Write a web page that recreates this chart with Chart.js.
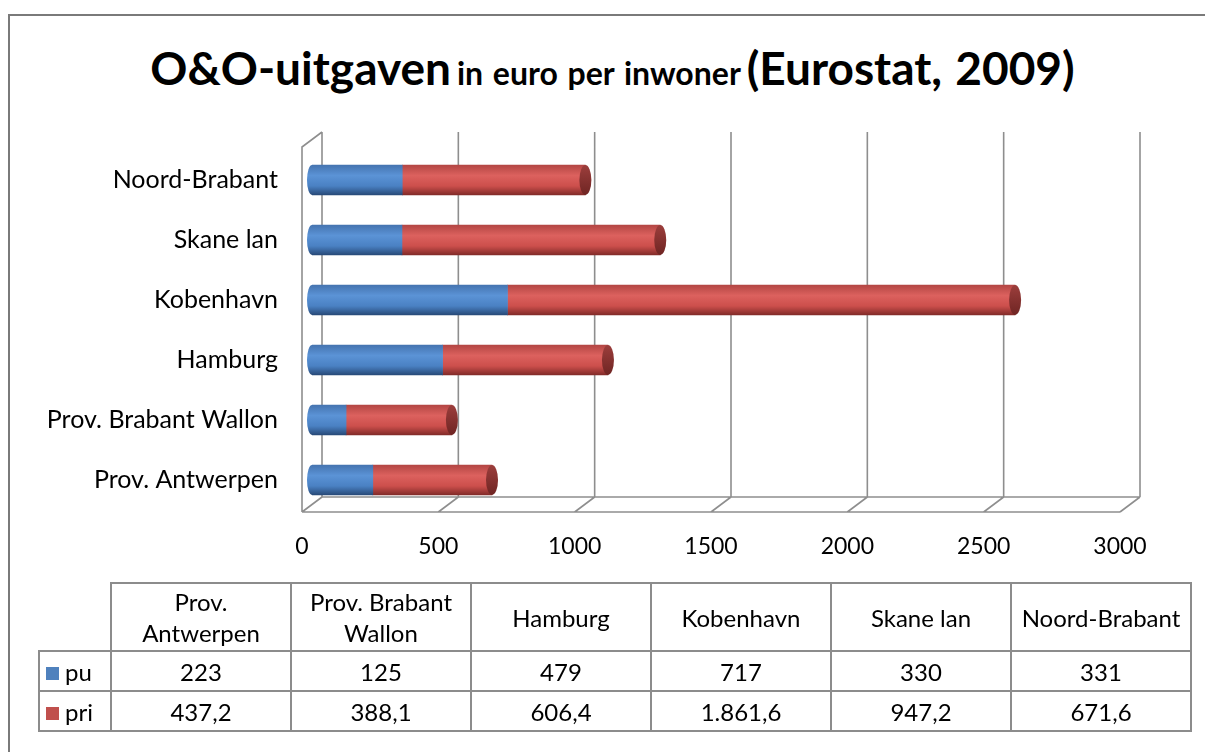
<!DOCTYPE html>
<html>
<head>
<meta charset="utf-8">
<script src="https://cdn.jsdelivr.net/npm/chart.js@4.4.0/dist/chart.umd.min.js"></script>
<style>
  body { margin: 0; background: #fff; font-family: Lato, 'Open Sans', sans-serif; }
  #wrap { position: relative; width: 1205px; height: 752px; overflow: hidden; }
  #frame { position: absolute; left: 8px; top: 14px; width: 1200px; height: 800px; border: 2px solid #7a7a7a; box-sizing: border-box; }
  #title { position: absolute; left: 0; top: 40px; width: 1225px; text-align: center; font-weight: bold; color: #000; white-space: nowrap; word-spacing: 2px; }
  #title .big { font-size: 46px; }
  #title .small { font-size: 32px; }
  canvas { position: absolute; left: 0; top: 0; }
  table { position: absolute; left: 38px; top: 582px; border-collapse: collapse; table-layout: fixed; width: 1152px; font-size: 24px; color: #000; }
  td { border: 2px solid #8c8c8c; text-align: center; padding: 0 4px; line-height: 31px; overflow: hidden; }
  td.blank { border: none; }
  tr.head td { height: 66px; }
  tr.row td { height: 38px; }
  td.lab { text-align: left; padding-left: 6px; }
  .key { display: inline-block; width: 13px; height: 13px; margin-right: 6px; vertical-align: 1px; }
</style>
</head>
<body>
<div id="wrap">
  <div id="frame"></div>
  <div id="title"><span class="big">O&amp;O-uitgaven</span>&nbsp;<span class="small">in euro per inwoner</span>&nbsp;<span class="big">(Eurostat, 2009)</span></div>
  <canvas id="chart" width="1205" height="752"></canvas>
  <table id="tbl"></table>
</div>
<script>
const categories = ['Prov. Antwerpen', 'Prov. Brabant Wallon', 'Hamburg', 'Kobenhavn', 'Skane lan', 'Noord-Brabant'];
const seriesNames = ['pu', 'pri'];
const puValues = [223, 125, 479, 717, 330, 331];
const priValues = [437.2, 388.1, 606.4, 1861.6, 947.2, 671.6];
const xTicks = [0, 500, 1000, 1500, 2000, 2500, 3000];

const blueStops = ['#4574b0', '#5b93d6', '#4a81c3', '#284a78'];
const redStops = ['#b34644', '#dc615e', '#cc4f4c', '#822b29'];
const keyColors = ['#4f81bd', '#c0504d'];

// depth of the fake 3d box
const DX = 10, DY = 7.5;

function fmt(v) {
  const parts = (Number.isInteger(v) ? String(v) : v.toFixed(1)).split('.');
  parts[0] = parts[0].replace(/\B(?=(\d{3})+(?!\d))/g, '.');
  return parts.join(',');
}

function cylinder(ctx, stops) {
  const chart = ctx.chart;
  const y = chart.scales.y;
  if (!y || ctx.dataIndex === undefined) return stops[2];
  const yc = y.getPixelForValue(ctx.dataIndex);
  if (!isFinite(yc)) return stops[2];
  const g = chart.ctx.createLinearGradient(0, yc - 15, 0, yc + 15);
  g.addColorStop(0, stops[0]);
  g.addColorStop(0.35, stops[1]);
  g.addColorStop(0.7, stops[2]);
  g.addColorStop(1, stops[3]);
  return g;
}

const box3d = {
  id: 'box3d',
  beforeDatasetsDraw(chart) {
    const c = chart.ctx, ca = chart.chartArea, sx = chart.scales.x;
    const fy = ca.bottom + 2, by = fy - 2 * DY;
    c.save();
    c.strokeStyle = '#8e8e8e';
    c.lineWidth = 1.6;
    c.beginPath();
    xTicks.forEach(v => {
      const p = sx.getPixelForValue(v);
      c.moveTo(p + DX, ca.top - 18);
      c.lineTo(p + DX, by);
      c.moveTo(p - DX, fy);
      c.lineTo(p + DX, by);
    });
    const p0 = sx.getPixelForValue(0), p1 = sx.getPixelForValue(3000);
    c.moveTo(p0 - DX, fy); c.lineTo(p1 - DX, fy);
    c.moveTo(p0 + DX, by); c.lineTo(p1 + DX, by);
    c.moveTo(p0 - DX, fy); c.lineTo(p0 - DX, ca.top - 3);
    c.lineTo(p0 + DX, ca.top - 18);
    c.stroke();
    c.restore();
  },
  afterDatasetsDraw(chart) {
    const c = chart.ctx, sx = chart.scales.x;
    const base = sx.getPixelForValue(0);
    c.save();
    chart.getDatasetMeta(0).data.forEach((bar, i) => {
      const h = bar.height / 2;
      c.fillStyle = cylinder({ chart, dataIndex: i }, blueStops);
      c.beginPath();
      c.ellipse(base, bar.y, 5, h, 0, 0, Math.PI * 2);
      c.fill();
    });
    chart.getDatasetMeta(1).data.forEach(bar => {
      const h = bar.height / 2;
      const g = c.createLinearGradient(0, bar.y - h, 0, bar.y + h);
      g.addColorStop(0, '#9c3e3c');
      g.addColorStop(1, '#6f2523');
      c.fillStyle = g;
      c.beginPath();
      c.ellipse(bar.x, bar.y, 6, h, 0, 0, Math.PI * 2);
      c.fill();
    });
    c.restore();
  }
};

new Chart(document.getElementById('chart'), {
  type: 'bar',
  data: {
    labels: categories,
    datasets: [
      { label: seriesNames[0], data: puValues, backgroundColor: ctx => cylinder(ctx, blueStops), barThickness: 30 },
      { label: seriesNames[1], data: priValues, backgroundColor: ctx => cylinder(ctx, redStops), barThickness: 30 }
    ]
  },
  options: {
    indexAxis: 'y',
    responsive: false,
    animation: false,
    layout: { padding: { top: 150, right: 75, bottom: 0, left: 0 } },
    plugins: { legend: { display: false }, tooltip: { enabled: false } },
    scales: {
      x: {
        stacked: true, min: 0, max: 3000,
        afterBuildTicks: s => { s.ticks = xTicks.map(v => ({ value: v })); },
        afterFit: s => { s.height = 242; },
        grid: { display: false }, border: { display: false },
        ticks: { color: '#000', font: { family: 'Lato', size: 23 }, padding: 15, labelOffset: -DX, maxRotation: 0,
          callback: v => String(v) }
      },
      y: {
        stacked: true, reverse: true,
        afterFit: s => { s.width = 312; },
        grid: { display: false }, border: { display: false },
        ticks: { color: '#000', font: { family: 'Lato', size: 25 }, padding: 26 }
      }
    }
  },
  plugins: [box3d]
});

// data table under the chart
const tbl = document.getElementById('tbl');
let html = '<colgroup><col style="width:72px">' + categories.map(() => '<col style="width:180px">').join('') + '</colgroup>';
html += '<tr class="head"><td class="blank"></td>' + categories.map(c => '<td>' + c + '</td>').join('') + '</tr>';
[puValues, priValues].forEach((vals, k) => {
  html += '<tr class="row"><td class="lab"><span class="key" style="background:' + keyColors[k] + '"></span>' + seriesNames[k] + '</td>' +
    vals.map(v => '<td>' + fmt(v) + '</td>').join('') + '</tr>';
});
tbl.innerHTML = html;
</script>
</body>
</html>
